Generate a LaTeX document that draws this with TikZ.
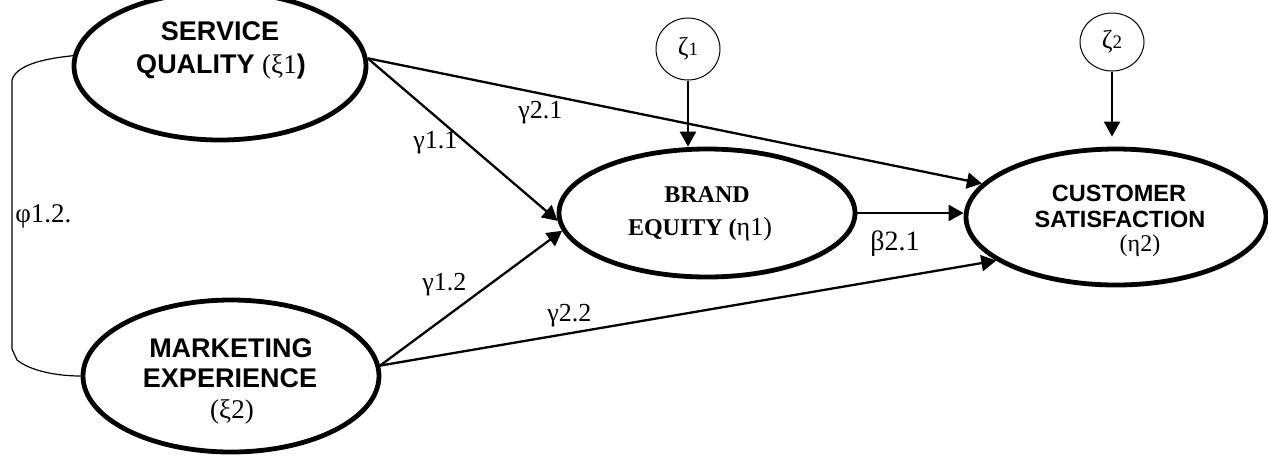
\documentclass[tikz,border=0pt]{standalone}
\usepackage{fontspec}
\setmainfont{Liberation Serif}
\setsansfont{Liberation Sans}
\usetikzlibrary{arrows.meta,shapes.geometric}
\tikzset{
  latent/.style={ellipse, draw, line width=2.4pt, inner sep=0pt},
  errc/.style={ellipse, draw, line width=0.5pt, inner sep=0pt, font=\fontsize{13}{14}\selectfont},
  arr/.style={line width=1.15pt, -{Triangle[length=7.5pt,width=8pt]}},
  corr/.style={line width=0.6pt},
  lbl/.style={anchor=base west, inner sep=0pt, font=\fontsize{13}{14}\selectfont},
  sqtxt/.style={anchor=base, inner sep=0pt, font=\fontsize{13.5}{15}\selectfont\sffamily\bfseries},
  cstxt/.style={anchor=base, inner sep=0pt, font=\fontsize{11.75}{13}\selectfont\sffamily\bfseries},
  betxt/.style={anchor=base, inner sep=0pt, font=\fontsize{12}{14}\selectfont\bfseries}
}
\newcommand{\smalldig}[1]{{\fontsize{9.5}{10}\selectfont #1}}
\begin{document}
\begin{tikzpicture}[x=0.5pt,y=-0.5pt]
\useasboundingbox (0,0) rectangle (1268,457);

% latent variables
\node[latent, minimum width=146pt, minimum height=74pt] (sq) at (220,66) {};
\node[latent, minimum width=148pt, minimum height=76pt] (me) at (231,376) {};
\node[latent, minimum width=148pt, minimum height=64pt] (be) at (707,213) {};
\node[latent, minimum width=150pt, minimum height=68pt] (cs) at (1116,217) {};

% disturbances
\node[errc, minimum width=32pt, minimum height=31pt] (z1) at (688,49) {ζ\smalldig{1}};
\node[errc, minimum width=32pt, minimum height=29pt] (z2) at (1112,42) {ζ\smalldig{2}};

% texts in ellipses
\node[sqtxt] (sq1) at (220,40) {SERVICE};
\node[sqtxt] (sq2) at (221,73) {QUALITY {\rmfamily\mdseries(ξ1}{)}};
\node[sqtxt] (me1) at (231,357) {MARKETING};
\node[sqtxt] (me2) at (230,387) {EXPERIENCE};
\node[sqtxt] (me3) at (232,418) {\rmfamily\mdseries(ξ2)};
\node[betxt] (be1) at (707,202) {BRAND};
\node[betxt] (be2) at (700,235) {EQUITY ({\mdseries\fontsize{13}{14}\selectfont η1)}};
\node[cstxt] (cs1) at (1119,201) {CUSTOMER};
\node[cstxt] (cs2) at (1120,227) {SATISFACTION};
\node[cstxt, font=\fontsize{12}{13}\selectfont\rmfamily] (cs3) at (1140,251) {(η2)};

% paths
\draw[arr] (sq.3) -- (cs.166);
\draw[arr] (sq.3) -- (be.183);
\draw[arr] (me.4) -- (be.187);
\draw[arr] (me.4) -- (cs.200);
\draw[arr] (be.east) -- (be.east -| cs.west);
\draw[arr] (z1.south) -- (z1.south |- be.north);
\draw[arr, shorten >=5pt] (z2.south) -- (z2.south |- cs.north);

% correlation
\draw[corr] (sq.176) .. controls (40,59) and (16,66) .. (12,80)
  -- (12,349) -- (17,360) .. controls (32,372) and (60,376) .. (me.west);

% labels
\node[lbl] (g21) at (518,118) {γ2.1};
\node[lbl] (g11) at (413,148) {γ1.1};
\node[lbl] (g12) at (422,290) {γ1.2};
\node[lbl] (g22) at (547,321) {γ2.2};
\node[lbl, font=\fontsize{14}{15}\selectfont] (b21) at (870,250) {β2.1};
\node[lbl, font=\fontsize{13.5}{15}\selectfont] (phi) at (15,222) {φ1.2.};
\end{tikzpicture}
\end{document}
